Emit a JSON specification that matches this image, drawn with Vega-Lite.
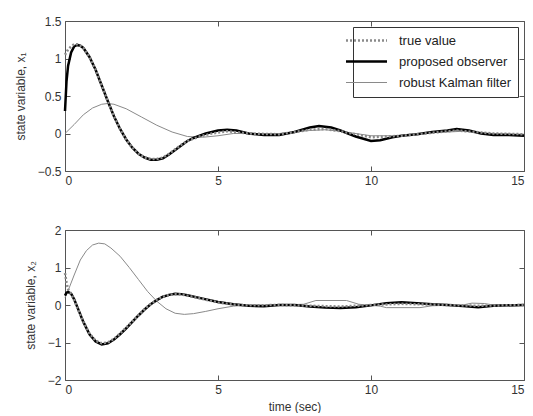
{
  "$schema": "https://vega.github.io/schema/vega-lite/v6.json",
  "background": "white",
  "padding": {"left": 13, "top": 14, "right": 0, "bottom": 0},
  "config": {
    "font": "Liberation Sans",
    "view": {"stroke": "#555555", "strokeWidth": 1},
    "axis": {"domain": false, "grid": false, "tickSize": -5, "tickColor": "#555555", "labelFont": "Liberation Sans", "labelFontSize": 12, "labelColor": "#333333", "titleFont": "Liberation Sans", "titleFontSize": 12, "titleFontWeight": "normal", "titleColor": "#333333", "labelPadding": 9, "titlePadding": 10, "format": "~g"},
    "legend": {"strokeColor": "#333333", "fillColor": "#ffffff"},
    "concat": {"spacing": 36}
  },
  "datasets": {
    "d": [
      {"p":1,"s":"proposed observer","t":0,"v":0.3},{"p":1,"s":"proposed observer","t":0.05,"v":0.7},{"p":1,"s":"proposed observer","t":0.1,"v":0.9},{"p":1,"s":"proposed observer","t":0.2,"v":1.08},{"p":1,"s":"proposed observer","t":0.3,"v":1.16},{"p":1,"s":"proposed observer","t":0.4,"v":1.18},{"p":1,"s":"proposed observer","t":0.5,"v":1.17},{"p":1,"s":"proposed observer","t":0.6,"v":1.14},{"p":1,"s":"proposed observer","t":0.8,"v":1.02},{"p":1,"s":"proposed observer","t":1.0,"v":0.85},{"p":1,"s":"proposed observer","t":1.2,"v":0.64},{"p":1,"s":"proposed observer","t":1.4,"v":0.43},{"p":1,"s":"proposed observer","t":1.6,"v":0.23},{"p":1,"s":"proposed observer","t":1.8,"v":0.06},{"p":1,"s":"proposed observer","t":2.0,"v":-0.08},{"p":1,"s":"proposed observer","t":2.2,"v":-0.19},{"p":1,"s":"proposed observer","t":2.4,"v":-0.27},{"p":1,"s":"proposed observer","t":2.6,"v":-0.32},{"p":1,"s":"proposed observer","t":2.8,"v":-0.35},{"p":1,"s":"proposed observer","t":3.0,"v":-0.35},{"p":1,"s":"proposed observer","t":3.2,"v":-0.33},{"p":1,"s":"proposed observer","t":3.4,"v":-0.28},{"p":1,"s":"proposed observer","t":3.6,"v":-0.22},{"p":1,"s":"proposed observer","t":3.8,"v":-0.16},{"p":1,"s":"proposed observer","t":4.0,"v":-0.1},{"p":1,"s":"proposed observer","t":4.2,"v":-0.06},{"p":1,"s":"proposed observer","t":4.4,"v":-0.03},{"p":1,"s":"proposed observer","t":4.6,"v":0.0},{"p":1,"s":"proposed observer","t":4.8,"v":0.02},{"p":1,"s":"proposed observer","t":5.0,"v":0.04},{"p":1,"s":"proposed observer","t":5.3,"v":0.05},{"p":1,"s":"proposed observer","t":5.6,"v":0.04},{"p":1,"s":"proposed observer","t":6.0,"v":0.0},{"p":1,"s":"proposed observer","t":6.5,"v":-0.02},{"p":1,"s":"proposed observer","t":7.0,"v":-0.02},{"p":1,"s":"proposed observer","t":7.5,"v":0.02},{"p":1,"s":"proposed observer","t":8.0,"v":0.08},{"p":1,"s":"proposed observer","t":8.3,"v":0.1},{"p":1,"s":"proposed observer","t":8.7,"v":0.08},{"p":1,"s":"proposed observer","t":9.0,"v":0.04},{"p":1,"s":"proposed observer","t":9.5,"v":-0.04},{"p":1,"s":"proposed observer","t":10.0,"v":-0.1},{"p":1,"s":"proposed observer","t":10.3,"v":-0.09},{"p":1,"s":"proposed observer","t":10.7,"v":-0.05},{"p":1,"s":"proposed observer","t":11.0,"v":-0.03},{"p":1,"s":"proposed observer","t":11.5,"v":-0.01},{"p":1,"s":"proposed observer","t":12.0,"v":0.02},{"p":1,"s":"proposed observer","t":12.5,"v":0.04},{"p":1,"s":"proposed observer","t":12.8,"v":0.06},{"p":1,"s":"proposed observer","t":13.2,"v":0.04},{"p":1,"s":"proposed observer","t":13.6,"v":0.0},{"p":1,"s":"proposed observer","t":14.0,"v":-0.02},{"p":1,"s":"proposed observer","t":14.5,"v":-0.02},{"p":1,"s":"proposed observer","t":15.0,"v":-0.03},
      {"p":1,"s":"true value","t":0,"v":1.05},{"p":1,"s":"true value","t":0.1,"v":1.12},{"p":1,"s":"true value","t":0.2,"v":1.16},{"p":1,"s":"true value","t":0.3,"v":1.19},{"p":1,"s":"true value","t":0.4,"v":1.19},{"p":1,"s":"true value","t":0.5,"v":1.17},{"p":1,"s":"true value","t":0.6,"v":1.14},{"p":1,"s":"true value","t":0.8,"v":1.02},{"p":1,"s":"true value","t":1.0,"v":0.85},{"p":1,"s":"true value","t":1.2,"v":0.64},{"p":1,"s":"true value","t":1.4,"v":0.43},{"p":1,"s":"true value","t":1.6,"v":0.23},{"p":1,"s":"true value","t":1.8,"v":0.06},{"p":1,"s":"true value","t":2.0,"v":-0.08},{"p":1,"s":"true value","t":2.2,"v":-0.19},{"p":1,"s":"true value","t":2.4,"v":-0.27},{"p":1,"s":"true value","t":2.6,"v":-0.32},{"p":1,"s":"true value","t":2.8,"v":-0.34},{"p":1,"s":"true value","t":3.0,"v":-0.34},{"p":1,"s":"true value","t":3.2,"v":-0.32},{"p":1,"s":"true value","t":3.4,"v":-0.27},{"p":1,"s":"true value","t":3.6,"v":-0.21},{"p":1,"s":"true value","t":3.8,"v":-0.15},{"p":1,"s":"true value","t":4.0,"v":-0.1},{"p":1,"s":"true value","t":4.4,"v":-0.04},{"p":1,"s":"true value","t":4.8,"v":0.0},{"p":1,"s":"true value","t":5.3,"v":0.03},{"p":1,"s":"true value","t":6.0,"v":0.0},{"p":1,"s":"true value","t":7.0,"v":-0.01},{"p":1,"s":"true value","t":8.0,"v":0.05},{"p":1,"s":"true value","t":8.5,"v":0.06},{"p":1,"s":"true value","t":9.0,"v":0.03},{"p":1,"s":"true value","t":10.0,"v":-0.05},{"p":1,"s":"true value","t":11.0,"v":-0.03},{"p":1,"s":"true value","t":12.0,"v":0.01},{"p":1,"s":"true value","t":12.8,"v":0.04},{"p":1,"s":"true value","t":14.0,"v":0.0},{"p":1,"s":"true value","t":15.0,"v":-0.01},
      {"p":1,"s":"robust Kalman filter","t":0,"v":0},{"p":1,"s":"robust Kalman filter","t":0.3,"v":0.12},{"p":1,"s":"robust Kalman filter","t":0.6,"v":0.25},{"p":1,"s":"robust Kalman filter","t":0.9,"v":0.34},{"p":1,"s":"robust Kalman filter","t":1.2,"v":0.39},{"p":1,"s":"robust Kalman filter","t":1.4,"v":0.4},{"p":1,"s":"robust Kalman filter","t":1.6,"v":0.39},{"p":1,"s":"robust Kalman filter","t":2.0,"v":0.33},{"p":1,"s":"robust Kalman filter","t":2.5,"v":0.22},{"p":1,"s":"robust Kalman filter","t":3.0,"v":0.11},{"p":1,"s":"robust Kalman filter","t":3.5,"v":0.02},{"p":1,"s":"robust Kalman filter","t":4.0,"v":-0.04},{"p":1,"s":"robust Kalman filter","t":4.5,"v":-0.05},{"p":1,"s":"robust Kalman filter","t":5.0,"v":-0.03},{"p":1,"s":"robust Kalman filter","t":5.5,"v":0.0},{"p":1,"s":"robust Kalman filter","t":6.0,"v":0.0},{"p":1,"s":"robust Kalman filter","t":7.0,"v":0.0},{"p":1,"s":"robust Kalman filter","t":8.0,"v":0.04},{"p":1,"s":"robust Kalman filter","t":8.5,"v":0.05},{"p":1,"s":"robust Kalman filter","t":9.0,"v":0.03},{"p":1,"s":"robust Kalman filter","t":10.0,"v":-0.03},{"p":1,"s":"robust Kalman filter","t":11.0,"v":-0.03},{"p":1,"s":"robust Kalman filter","t":12.0,"v":0.01},{"p":1,"s":"robust Kalman filter","t":13.0,"v":0.03},{"p":1,"s":"robust Kalman filter","t":14.0,"v":0.0},{"p":1,"s":"robust Kalman filter","t":15.0,"v":-0.01},
      {"p":2,"s":"proposed observer","t":0,"v":0.25},{"p":2,"s":"proposed observer","t":0.05,"v":0.33},{"p":2,"s":"proposed observer","t":0.1,"v":0.35},{"p":2,"s":"proposed observer","t":0.2,"v":0.3},{"p":2,"s":"proposed observer","t":0.3,"v":0.15},{"p":2,"s":"proposed observer","t":0.4,"v":-0.05},{"p":2,"s":"proposed observer","t":0.6,"v":-0.45},{"p":2,"s":"proposed observer","t":0.8,"v":-0.78},{"p":2,"s":"proposed observer","t":1.0,"v":-0.97},{"p":2,"s":"proposed observer","t":1.2,"v":-1.05},{"p":2,"s":"proposed observer","t":1.4,"v":-1.02},{"p":2,"s":"proposed observer","t":1.6,"v":-0.92},{"p":2,"s":"proposed observer","t":1.8,"v":-0.78},{"p":2,"s":"proposed observer","t":2.0,"v":-0.62},{"p":2,"s":"proposed observer","t":2.2,"v":-0.45},{"p":2,"s":"proposed observer","t":2.4,"v":-0.28},{"p":2,"s":"proposed observer","t":2.6,"v":-0.12},{"p":2,"s":"proposed observer","t":2.8,"v":0.02},{"p":2,"s":"proposed observer","t":3.0,"v":0.13},{"p":2,"s":"proposed observer","t":3.2,"v":0.22},{"p":2,"s":"proposed observer","t":3.4,"v":0.27},{"p":2,"s":"proposed observer","t":3.6,"v":0.3},{"p":2,"s":"proposed observer","t":3.8,"v":0.29},{"p":2,"s":"proposed observer","t":4.0,"v":0.26},{"p":2,"s":"proposed observer","t":4.5,"v":0.17},{"p":2,"s":"proposed observer","t":5.0,"v":0.08},{"p":2,"s":"proposed observer","t":5.5,"v":0.02},{"p":2,"s":"proposed observer","t":6.0,"v":-0.02},{"p":2,"s":"proposed observer","t":6.5,"v":-0.03},{"p":2,"s":"proposed observer","t":7.0,"v":0.0},{"p":2,"s":"proposed observer","t":7.5,"v":0.0},{"p":2,"s":"proposed observer","t":8.0,"v":-0.04},{"p":2,"s":"proposed observer","t":8.5,"v":-0.07},{"p":2,"s":"proposed observer","t":9.0,"v":-0.08},{"p":2,"s":"proposed observer","t":9.5,"v":-0.06},{"p":2,"s":"proposed observer","t":10.0,"v":-0.01},{"p":2,"s":"proposed observer","t":10.5,"v":0.05},{"p":2,"s":"proposed observer","t":11.0,"v":0.07},{"p":2,"s":"proposed observer","t":11.5,"v":0.05},{"p":2,"s":"proposed observer","t":12.0,"v":0.02},{"p":2,"s":"proposed observer","t":12.5,"v":0.0},{"p":2,"s":"proposed observer","t":13.0,"v":-0.03},{"p":2,"s":"proposed observer","t":13.5,"v":-0.06},{"p":2,"s":"proposed observer","t":14.0,"v":-0.02},{"p":2,"s":"proposed observer","t":15.0,"v":0.0},
      {"p":2,"s":"true value","t":0,"v":0.85},{"p":2,"s":"true value","t":0.05,"v":0.6},{"p":2,"s":"true value","t":0.1,"v":0.42},{"p":2,"s":"true value","t":0.2,"v":0.3},{"p":2,"s":"true value","t":0.3,"v":0.13},{"p":2,"s":"true value","t":0.4,"v":-0.07},{"p":2,"s":"true value","t":0.6,"v":-0.45},{"p":2,"s":"true value","t":0.8,"v":-0.76},{"p":2,"s":"true value","t":1.0,"v":-0.95},{"p":2,"s":"true value","t":1.2,"v":-1.02},{"p":2,"s":"true value","t":1.4,"v":-1.0},{"p":2,"s":"true value","t":1.6,"v":-0.9},{"p":2,"s":"true value","t":1.8,"v":-0.76},{"p":2,"s":"true value","t":2.0,"v":-0.6},{"p":2,"s":"true value","t":2.2,"v":-0.44},{"p":2,"s":"true value","t":2.4,"v":-0.27},{"p":2,"s":"true value","t":2.6,"v":-0.11},{"p":2,"s":"true value","t":2.8,"v":0.03},{"p":2,"s":"true value","t":3.0,"v":0.14},{"p":2,"s":"true value","t":3.2,"v":0.22},{"p":2,"s":"true value","t":3.4,"v":0.27},{"p":2,"s":"true value","t":3.6,"v":0.29},{"p":2,"s":"true value","t":3.8,"v":0.28},{"p":2,"s":"true value","t":4.0,"v":0.25},{"p":2,"s":"true value","t":4.5,"v":0.16},{"p":2,"s":"true value","t":5.0,"v":0.07},{"p":2,"s":"true value","t":5.5,"v":0.01},{"p":2,"s":"true value","t":6.0,"v":-0.01},{"p":2,"s":"true value","t":7.0,"v":0.0},{"p":2,"s":"true value","t":8.0,"v":-0.02},{"p":2,"s":"true value","t":9.0,"v":-0.04},{"p":2,"s":"true value","t":10.0,"v":0.0},{"p":2,"s":"true value","t":11.0,"v":0.03},{"p":2,"s":"true value","t":12.0,"v":0.01},{"p":2,"s":"true value","t":13.5,"v":-0.02},{"p":2,"s":"true value","t":15.0,"v":0.0},
      {"p":2,"s":"robust Kalman filter","t":0,"v":0.2},{"p":2,"s":"robust Kalman filter","t":0.1,"v":0.38},{"p":2,"s":"robust Kalman filter","t":0.3,"v":0.8},{"p":2,"s":"robust Kalman filter","t":0.5,"v":1.2},{"p":2,"s":"robust Kalman filter","t":0.7,"v":1.45},{"p":2,"s":"robust Kalman filter","t":0.9,"v":1.6},{"p":2,"s":"robust Kalman filter","t":1.1,"v":1.65},{"p":2,"s":"robust Kalman filter","t":1.3,"v":1.63},{"p":2,"s":"robust Kalman filter","t":1.5,"v":1.52},{"p":2,"s":"robust Kalman filter","t":1.8,"v":1.3},{"p":2,"s":"robust Kalman filter","t":2.1,"v":1.0},{"p":2,"s":"robust Kalman filter","t":2.4,"v":0.68},{"p":2,"s":"robust Kalman filter","t":2.7,"v":0.36},{"p":2,"s":"robust Kalman filter","t":3.0,"v":0.1},{"p":2,"s":"robust Kalman filter","t":3.3,"v":-0.1},{"p":2,"s":"robust Kalman filter","t":3.6,"v":-0.22},{"p":2,"s":"robust Kalman filter","t":3.9,"v":-0.25},{"p":2,"s":"robust Kalman filter","t":4.2,"v":-0.23},{"p":2,"s":"robust Kalman filter","t":4.6,"v":-0.17},{"p":2,"s":"robust Kalman filter","t":5.0,"v":-0.1},{"p":2,"s":"robust Kalman filter","t":5.5,"v":-0.03},{"p":2,"s":"robust Kalman filter","t":6.0,"v":0.0},{"p":2,"s":"robust Kalman filter","t":7.0,"v":0.0},{"p":2,"s":"robust Kalman filter","t":7.8,"v":0.02},{"p":2,"s":"robust Kalman filter","t":8.2,"v":0.12},{"p":2,"s":"robust Kalman filter","t":9.2,"v":0.12},{"p":2,"s":"robust Kalman filter","t":9.6,"v":0.02},{"p":2,"s":"robust Kalman filter","t":10.3,"v":-0.03},{"p":2,"s":"robust Kalman filter","t":10.5,"v":-0.07},{"p":2,"s":"robust Kalman filter","t":11.6,"v":-0.07},{"p":2,"s":"robust Kalman filter","t":12.0,"v":-0.02},{"p":2,"s":"robust Kalman filter","t":13.0,"v":0.0},{"p":2,"s":"robust Kalman filter","t":13.3,"v":0.05},{"p":2,"s":"robust Kalman filter","t":13.7,"v":0.04},{"p":2,"s":"robust Kalman filter","t":14.0,"v":0.0},{"p":2,"s":"robust Kalman filter","t":15.0,"v":0.0}
    ]
  },
  "resolve": {"scale": {"color": "independent"}},
  "vconcat": [
    {
      "width": 459, "height": 150,
      "data": {"name": "d"},
      "transform": [{"filter": "datum.p == 1"}],
      "layer": [
        {
          "transform": [{"filter": "datum.s == 'robust Kalman filter'"}],
          "mark": {"type": "line", "strokeWidth": 1},
          "encoding": {
            "x": {"field": "t", "type": "quantitative", "scale": {"domain": [0, 15], "nice": false}, "axis": {"values": [0, 5, 10, 15], "title": null}},
            "y": {"field": "v", "type": "quantitative", "scale": {"domain": [-0.5, 1.5], "nice": false}, "axis": {"values": [-0.5, 0, 0.5, 1, 1.5], "title": "state variable, x₁"}},
            "color": {"field": "s", "type": "nominal", "scale": {"domain": ["true value", "proposed observer", "robust Kalman filter"], "range": ["#8a8a8a", "#000000", "#8a8a8a"]},
              "legend": {"title": null, "orient": "top-right", "offset": 6, "symbolType": "stroke", "symbolSize": 1681, "labelFontSize": 13, "labelColor": "#222222", "labelFont": "Liberation Sans", "labelOffset": 26, "strokeColor": "#333333", "fillColor": "#ffffff", "padding": 7, "rowPadding": 7,
                "encode": {
                  "legend": {"update": {"stroke": {"value": "#333333"}, "strokeWidth": {"value": 1}, "fill": {"value": "#ffffff"}}},
                  "symbols": {"update": {"strokeWidth": {"signal": "datum.value == 'robust Kalman filter' ? 1 : 2.5"}, "strokeDash": {"signal": "datum.value == 'true value' ? [2, 2] : [1, 0]"}}}}}}
          }
        },
        {
          "transform": [{"filter": "datum.s == 'proposed observer'"}],
          "mark": {"type": "line", "strokeWidth": 2.5},
          "encoding": {
            "x": {"field": "t", "type": "quantitative", "axis": null},
            "y": {"field": "v", "type": "quantitative", "axis": null},
            "color": {"field": "s", "type": "nominal"}
          }
        },
        {
          "transform": [{"filter": "datum.s == 'true value'"}],
          "mark": {"type": "line", "strokeWidth": 2.5, "strokeDash": [2, 2]},
          "encoding": {
            "x": {"field": "t", "type": "quantitative", "axis": null},
            "y": {"field": "v", "type": "quantitative", "axis": null},
            "color": {"field": "s", "type": "nominal"}
          }
        },
        {
          "mark": {"type": "rule", "opacity": 0},
          "encoding": {
            "x": {"field": "t", "type": "quantitative", "axis": {"orient": "top", "values": [0, 5, 10, 15], "labels": false, "title": null}},
            "y": {"field": "v", "type": "quantitative", "axis": {"orient": "right", "values": [-0.5, 0, 0.5, 1, 1.5], "labels": false, "title": null}}
          }
        }
      ],
      "resolve": {"axis": {"x": "independent", "y": "independent"}}
    },
    {
      "width": 459, "height": 150,
      "data": {"name": "d"},
      "transform": [{"filter": "datum.p == 2"}],
      "layer": [
        {
          "transform": [{"filter": "datum.s == 'robust Kalman filter'"}],
          "mark": {"type": "line", "strokeWidth": 1},
          "encoding": {
            "x": {"field": "t", "type": "quantitative", "scale": {"domain": [0, 15], "nice": false}, "axis": {"values": [0, 5, 10, 15], "title": "time (sec)", "titlePadding": 6}},
            "y": {"field": "v", "type": "quantitative", "scale": {"domain": [-2, 2], "nice": false}, "axis": {"values": [-2, -1, 0, 1, 2], "title": "state variable, x₂"}},
            "color": {"field": "s", "type": "nominal", "scale": {"domain": ["true value", "proposed observer", "robust Kalman filter"], "range": ["#8a8a8a", "#000000", "#8a8a8a"]}, "legend": null}
          }
        },
        {
          "transform": [{"filter": "datum.s == 'proposed observer'"}],
          "mark": {"type": "line", "strokeWidth": 2.5},
          "encoding": {
            "x": {"field": "t", "type": "quantitative", "axis": null},
            "y": {"field": "v", "type": "quantitative", "axis": null},
            "color": {"field": "s", "type": "nominal", "legend": null}
          }
        },
        {
          "transform": [{"filter": "datum.s == 'true value'"}],
          "mark": {"type": "line", "strokeWidth": 2.5, "strokeDash": [2, 2]},
          "encoding": {
            "x": {"field": "t", "type": "quantitative", "axis": null},
            "y": {"field": "v", "type": "quantitative", "axis": null},
            "color": {"field": "s", "type": "nominal", "legend": null}
          }
        },
        {
          "mark": {"type": "rule", "opacity": 0},
          "encoding": {
            "x": {"field": "t", "type": "quantitative", "axis": {"orient": "top", "values": [0, 5, 10, 15], "labels": false, "title": null}},
            "y": {"field": "v", "type": "quantitative", "axis": {"orient": "right", "values": [-2, -1, 0, 1, 2], "labels": false, "title": null}}
          }
        }
      ],
      "resolve": {"axis": {"x": "independent", "y": "independent"}}
    }
  ]
}
